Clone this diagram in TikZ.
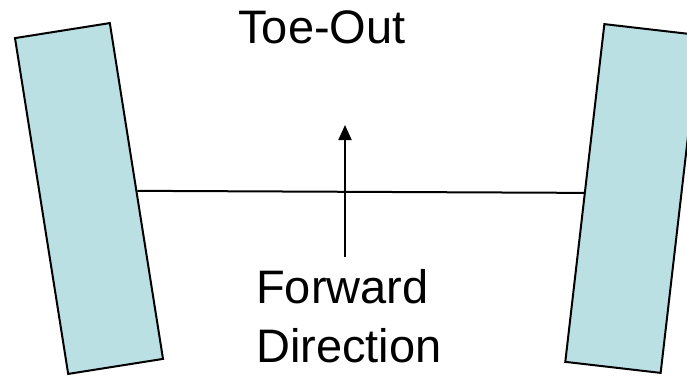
\documentclass[tikz,border=0pt]{standalone}
\usepackage{fontspec}
\setmainfont{Liberation Sans}
\usetikzlibrary{arrows.meta}
\definecolor{wheelfill}{RGB}{187,224,227}
\begin{document}
\begin{tikzpicture}[x=1pt,y=-1pt,
  wheel/.style={draw=black,line width=2pt,fill=wheelfill,rectangle,
    minimum width=96pt,minimum height=340pt,inner sep=0pt},
  bar/.style={line width=2pt},
  lbl/.style={inner sep=0pt,font=\fontsize{47}{59}\selectfont}]
\useasboundingbox (0,0) rectangle (687,375);
\node[wheel,rotate=9] (lw) at (89,198.5) {};
\node[wheel,rotate=-6.6] (rw) at (632.5,198.5) {};
\draw[bar] (lw.east) -- (rw.west);
\coordinate (atail) at (345,257);
\coordinate (ahead) at (345,125);
\draw[bar,-{Triangle[width=13pt,length=15pt]}] (atail) -- (ahead);
\node[lbl,anchor=base] (title) at (322,43) {Toe-Out};
\node[lbl,anchor=north west,align=left] (fwd) at (256,269.5) {Forward\\Direction};
\end{tikzpicture}
\end{document}
